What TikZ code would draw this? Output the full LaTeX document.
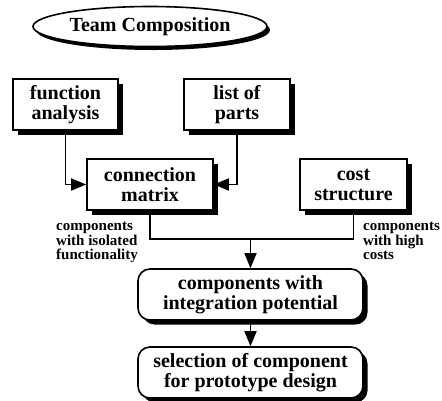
\documentclass[tikz,border=0pt]{standalone}
\usepackage{fontspec}
\setmainfont{Liberation Serif}
\usetikzlibrary{arrows.meta,shadows,shapes.geometric}
\begin{document}
\begin{tikzpicture}[x=1pt,y=-1pt,
  shad/.style={drop shadow={shadow xshift=4.5pt,shadow yshift=-4.5pt,fill=black,opacity=1}},
  box/.style={draw,line width=1.6pt,fill=white,shad,inner sep=0pt,align=center,
    font=\bfseries\fontsize{20}{20}\selectfont,minimum height=51pt},
  rbox/.style={box,rounded corners=12pt},
  lbl/.style={inner sep=0pt,align=left,anchor=north west,font=\bfseries\fontsize{15}{14.5}\selectfont},
  conn/.style={line width=1.7pt},
  arr/.style={conn,-{Triangle[length=15pt,width=12pt]}}]
\useasboundingbox (0,0) rectangle (442,400);
\node[ellipse,draw,line width=1.6pt,fill=white,
  drop shadow={shadow xshift=3pt,shadow yshift=-3.5pt,fill=black,opacity=1},
  minimum width=234pt,minimum height=40pt,inner sep=0pt,
  font=\bfseries\fontsize{20}{20}\selectfont] (tc) at (150,26.5) {Team Composition};
\node[box,minimum width=105pt] (fa) at (65.5,104.5) {function\\analysis};
\node[box,minimum width=106pt] (lp) at (237,104.5) {list of\\parts};
\node[box,minimum width=126pt] (cm) at (150,184.5) {connection\\matrix};
\node[box,minimum width=107pt] (cs) at (353.5,184.5) {cost\\structure};
\node[rbox,minimum width=225pt] (ip) at (250.5,294.5) {components with\\integration potential};
\node[rbox,minimum width=225pt] (sel) at (250.5,372.5) {selection of component\\for prototype design};
\coordinate (j) at (250.5,239);
\node[lbl] (l1) at (56,222) {components\\with isolated\\functionality};
\node[lbl] (l2) at (363,222) {components\\with high\\costs};
\draw[arr] (fa.south) |- (cm.west);
\draw[arr] (lp.south) |- (cm.east);
\draw[conn] (cm.south) |- (j);
\draw[conn] (cs.south) |- (j);
\draw[arr] (j) -- (ip.north);
\draw[arr] (ip.south) -- (sel.north);
\end{tikzpicture}
\end{document}
